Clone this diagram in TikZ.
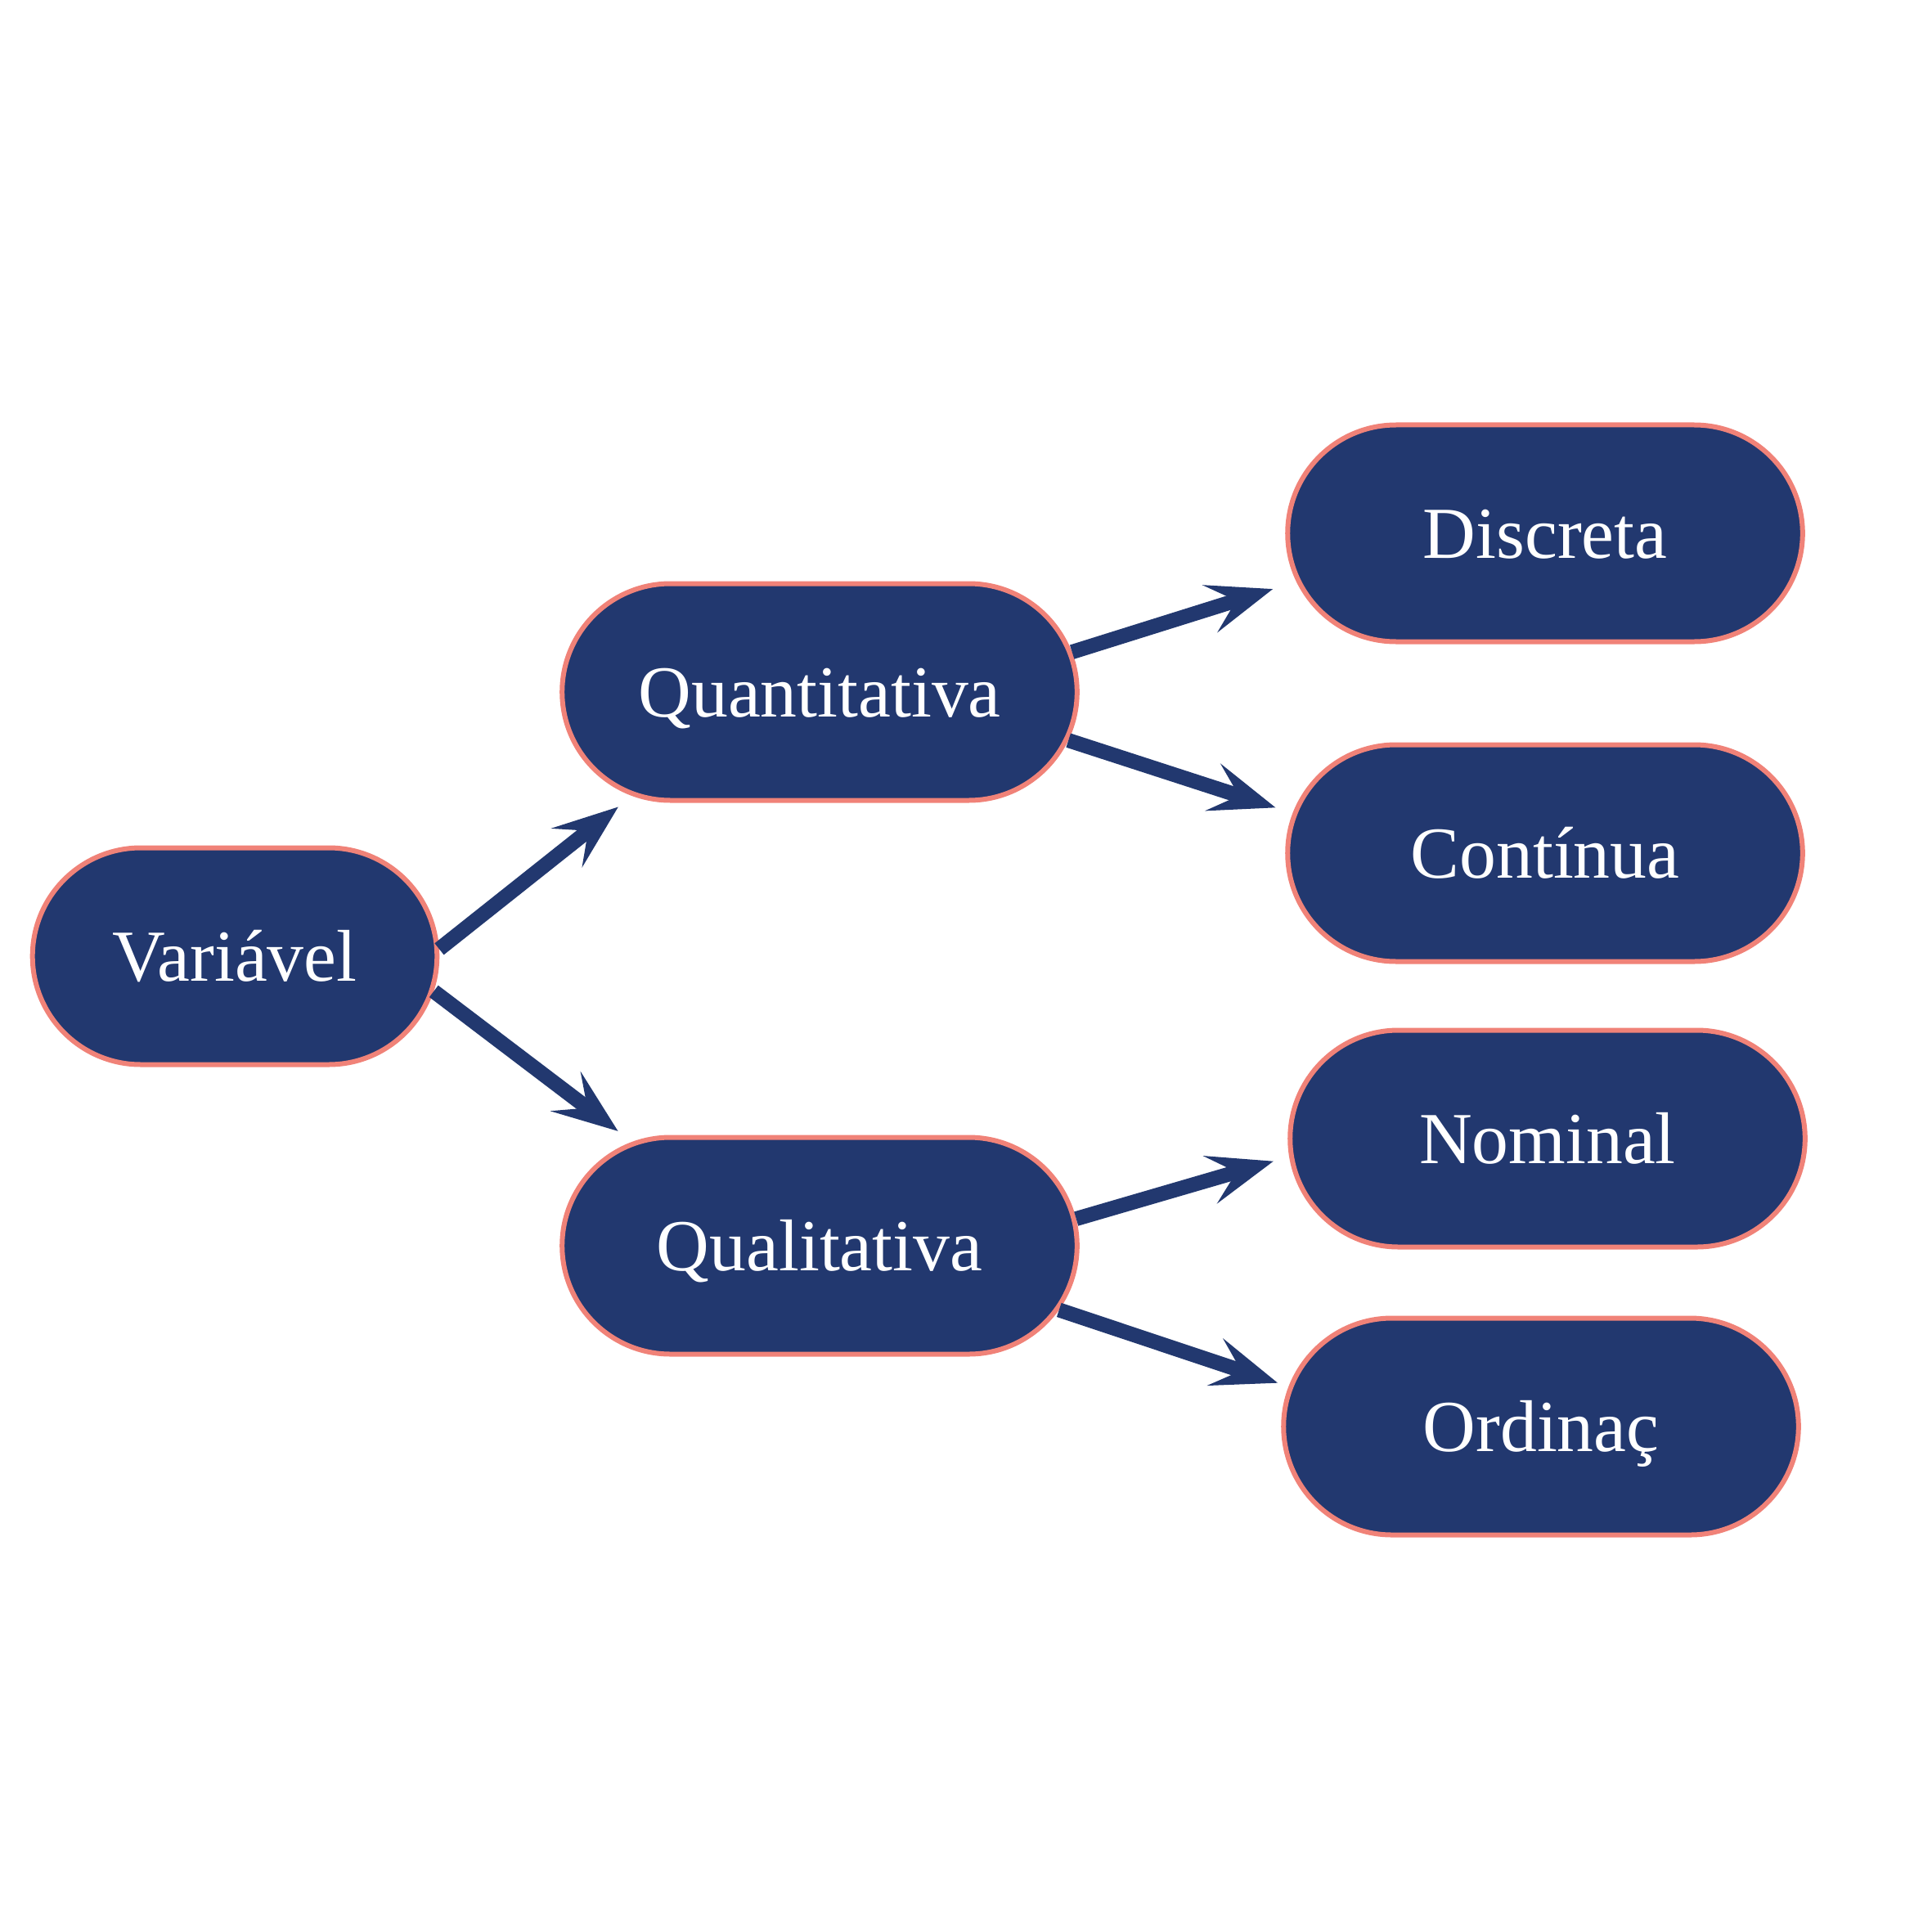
\documentclass[tikz,border=0pt]{standalone}
\usepackage{fontspec}
\setmainfont{Liberation Serif}
\usetikzlibrary{arrows.meta,shapes.misc}
\definecolor{boxblue}{HTML}{22386F}
\definecolor{boxrim}{HTML}{F08278}
\tikzset{
  box/.style={rounded rectangle, draw=boxrim, fill=boxblue, line width=0.06cm,
    text=white, minimum width=6.53cm, minimum height=2.65cm,
    font=\fontsize{25.5}{30}\selectfont, text height=0.6cm, text depth=0pt},
  link/.style={draw=boxblue, line width=0.18cm,
    -{Stealth[length=0.8cm, width=0.6cm, inset=0.33cm]}}
}
\begin{document}
\begin{tikzpicture}
      \useasboundingbox (0,0) rectangle (23.62,-23.62);
      \draw
        (2.87,-11.69) node[box, minimum width=5.18cm] (var){Variável}
        (10.02,-8.46) node[box] (quanti){Quantitativa}
        (10.02,-15.23) node[box] (quali){Qualitativa}
        (18.89,-6.52) node[box] (disc){Discreta}
        (18.89,-10.43) node[box] (cont){Contínua}
        (18.92,-13.92) node[box] (nomi){Nominal}
        (18.84,-17.44) node[box] (ordi){Ordinaç};
      \begin{scope}[link]
        \draw[shorten >=0.215cm] (var.2) to (quanti.209);
        \draw[shorten >=0.215cm] (var.-10.7) to (quali.151);
        \draw[shorten >=0.3cm] (quanti.9.6) to (disc.191.8);
        \draw[shorten >=0.22cm] (quanti.-11) to (cont.171.3);
        \draw[shorten >=0.2cm] (quali.6.5) to (nomi.184.1);
        \draw[shorten >=0.14cm] (quali.-15.7) to (ordi.171.8);
      \end{scope}
    \end{tikzpicture}
\end{document}
